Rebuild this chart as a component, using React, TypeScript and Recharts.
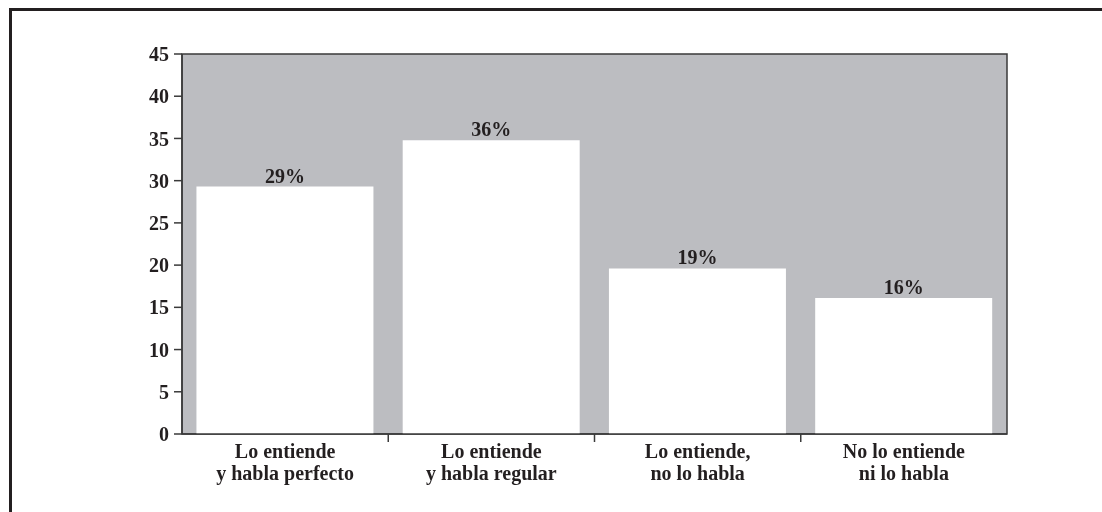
import React from "react";
import { BarChart, Bar, XAxis, YAxis, CartesianGrid, LabelList, ReferenceArea } from "recharts";

const categories = [
  "Lo entiende\ny habla perfecto",
  "Lo entiende\ny habla regular",
  "Lo entiende,\nno lo habla",
  "No lo entiende\nni lo habla",
];
const values = [29.3, 34.8, 19.6, 16.1];
const valueLabels = ["29%", "36%", "19%", "16%"];
const yTicks = [0, 5, 10, 15, 20, 25, 30, 35, 40, 45];

const data = categories.map((name, i) => ({ name, value: values[i], label: valueLabels[i] }));

const FONT = "'Liberation Serif', 'Times New Roman', serif";
const INK = "#231f20";
const LINE = "#3a3a3a";
const TICK_SIZE = 8;
const TICK_MARGIN = 2;

const CatTick = (props: any) => {
  const { x, y, payload, index } = props;
  const lines = String(payload.value).split("\n");
  const half = payload && payload.offset ? payload.offset : 0;
  const isLast = index === categories.length - 1;
  return (
    <g>
      {!isLast && (
        <line
          x1={x + half}
          x2={x + half}
          y1={y - TICK_SIZE - TICK_MARGIN}
          y2={y - TICK_MARGIN}
          stroke={LINE}
          strokeWidth={1.5}
        />
      )}
      <text
        x={x}
        y={y}
        textAnchor="middle"
        fontFamily={FONT}
        fontWeight="bold"
        fontSize={20}
        fill={INK}
      >
        {lines.map((l, i) => (
          <tspan key={i} x={x} dy={i === 0 ? 14 : 22}>
            {l}
          </tspan>
        ))}
      </text>
    </g>
  );
};

export default function App() {
  return (
    <div>
      <div
        style={{
          position: "fixed",
          left: 9,
          top: 8,
          right: 0,
          bottom: 0,
          borderTop: `3px solid ${INK}`,
          borderLeft: `3px solid ${INK}`,
          pointerEvents: "none",
        }}
      />
      <BarChart
        width={1080}
        height={490}
        data={data}
        margin={{ top: 46, right: 81, bottom: 0, left: 0 }}
        barCategoryGap="7%"
      >
        <CartesianGrid fill="#bcbdc1" stroke="none" horizontal={false} vertical={false} />
        <XAxis
          dataKey="name"
          height={64}
          interval={0}
          tickLine={false}
          tickSize={TICK_SIZE}
          tickMargin={TICK_MARGIN}
          axisLine={{ stroke: LINE, strokeWidth: 1.5 }}
          tick={<CatTick />}
        />
        <YAxis
          width={174}
          domain={[0, 45]}
          ticks={yTicks}
          interval={0}
          tickSize={8}
          tickMargin={5}
          tickLine={{ stroke: LINE, strokeWidth: 1.5 }}
          axisLine={{ stroke: LINE, strokeWidth: 1.5 }}
          tick={{ fontFamily: FONT, fontWeight: "bold", fontSize: 20, fill: INK }}
        />
        <Bar dataKey="value" fill="#ffffff" isAnimationActive={false}>
          <LabelList
            dataKey="label"
            position="top"
            offset={4}
            fontFamily={FONT}
            fontWeight="bold"
            fontSize={20}
            fill={INK}
          />
        </Bar>
        <ReferenceArea
          y1={0}
          y2={45}
          fill="none"
          fillOpacity={0}
          stroke={LINE}
          strokeWidth={1.5}
          ifOverflow="visible"
        />
      </BarChart>
    </div>
  );
}
